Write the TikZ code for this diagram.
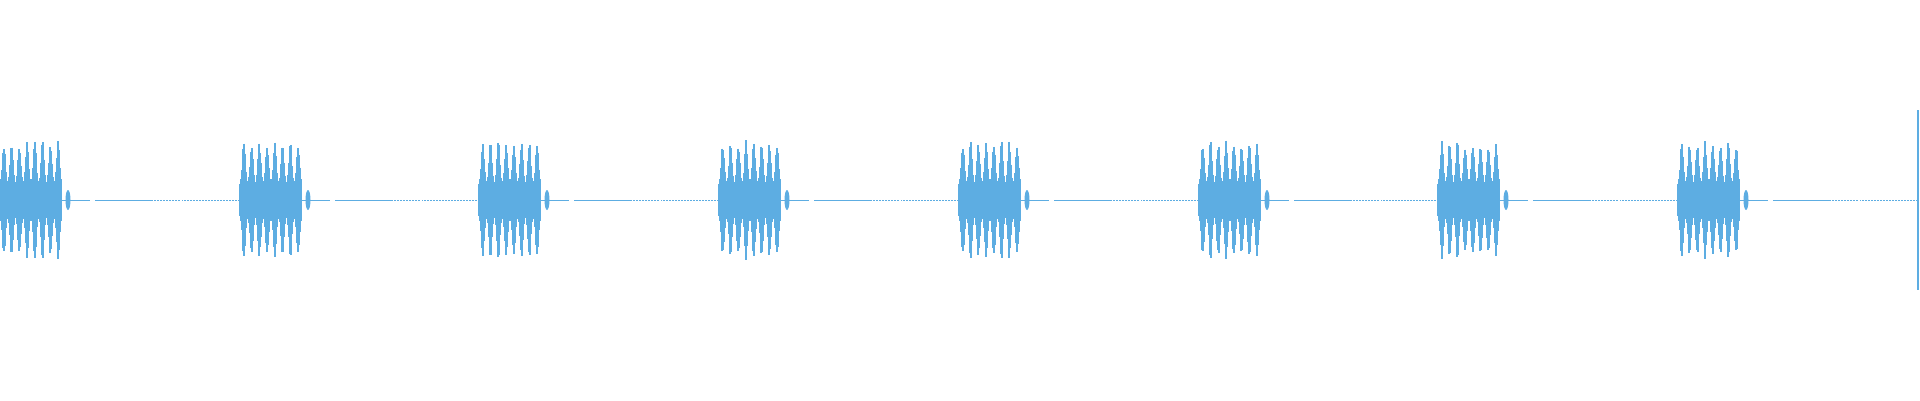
\documentclass[tikz,border=0pt]{standalone}
\definecolor{wav}{RGB}{93,173,226}
\begin{document}
\begin{tikzpicture}[x=1pt,y=-1pt,wv/.style={wav,line width=1.05pt},base/.style={wav,line width=1pt}]
\useasboundingbox (0,0) rectangle (1920,400);
\pgfmathsetseed{7}
\foreach \s [count=\k] in {0,240,479,719,959,1199,1438,1678}{
  \coordinate (b\k) at (\s,200);
  \draw[base] (\s,200) -- (\s+240,200);
  \fill[white] (\s+90,198) rectangle (\s+95,202);
  \fill[white] (\s+180,198) rectangle (\s+182,202);
  \foreach \i in {1,...,29}{\fill[white] ({\s+150+\i*3},198) rectangle ({\s+151+\i*3},202);}
  \foreach \j in {0,...,61}{
    \pgfmathsetmacro{\sv}{abs(sin(\j*23.2258))}
    \pgfmathsetmacro{\a}{16+10*\sv+34*\sv*\sv*\sv*\sv*(0.7+0.3*rnd)}
    \draw[wv] (\s+\j,200-\a) -- (\s+\j,200+\a);
  }
  \fill[wav] (\s+68,200) ellipse (2.5 and 10);
}
\coordinate (e) at (1918,200);
\draw[wav,line width=1.5pt] (1918,110) -- (1918,290);
\end{tikzpicture}
\end{document}
